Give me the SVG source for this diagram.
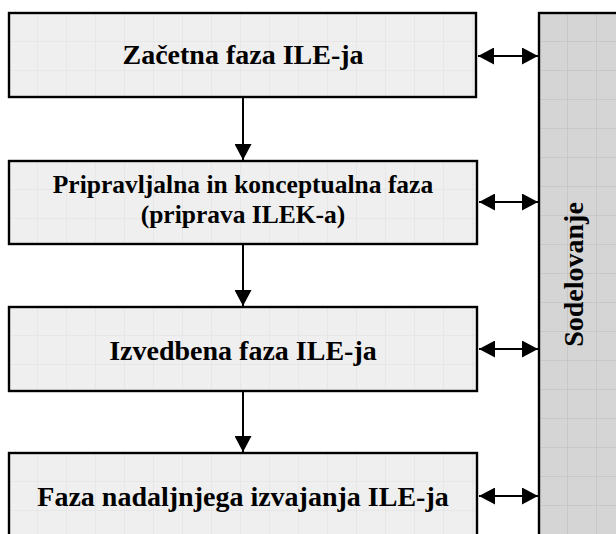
<svg xmlns="http://www.w3.org/2000/svg" width="616" height="534" viewBox="0 0 616 534">
  <style>
    .box { fill: url(#gridLight); stroke: #000; stroke-width: 2.4; }
    .panel { fill: url(#gridDark); stroke: #000; stroke-width: 2.4; }
    .label { font-family: "Liberation Serif", "Times New Roman", serif; font-weight: bold; fill: #000; text-anchor: middle; }
    .link { stroke: #000; stroke-width: 2; fill: none; }
  </style>
  <defs>
    <!-- light grid fill for the phase boxes -->
    <pattern id="gridLight" width="29" height="29" patternUnits="userSpaceOnUse">
      <rect width="29" height="29" fill="#efefef"/>
      <path d="M29 0 V29 M0 29 H29" stroke="#e0e0e0" stroke-width="1"/>
    </pattern>
    <!-- darker grid fill for the side panel -->
    <pattern id="gridDark" width="29" height="29" patternUnits="userSpaceOnUse">
      <rect width="29" height="29" fill="#d5d5d5"/>
      <path d="M29 0 V29 M0 29 H29" stroke="#bcbcbc" stroke-width="1"/>
    </pattern>
    <marker id="head" markerUnits="userSpaceOnUse" viewBox="0 0 16 17" markerWidth="16" markerHeight="17" refX="16" refY="8.5" orient="auto-start-reverse">
      <path d="M0 0 L16 8.5 L0 17 Z" fill="#000"/>
    </marker>
  </defs>

  <rect width="616" height="534" fill="#fff"/>

  <g id="node-sodelovanje" transform="translate(539,13)">
    <rect class="panel" x="0" y="0" width="100" height="540"/>
    <text class="label" font-size="28" transform="translate(44,261.5) rotate(-90)">Sodelovanje</text>
  </g>

  <g id="node-zacetna" transform="translate(9,13)">
    <rect class="box" x="0" y="0" width="467" height="84"/>
    <text class="label" x="234" y="51" font-size="28">Začetna faza ILE-ja</text>
  </g>

  <g id="node-pripravljalna" transform="translate(9,161)">
    <rect class="box" x="0" y="0" width="468" height="83"/>
    <text class="label" x="234" y="32" font-size="25.5">Pripravljalna in konceptualna faza</text>
    <text class="label" x="234" y="62" font-size="25.5">(priprava ILEK-a)</text>
  </g>

  <g id="node-izvedbena" transform="translate(9,307)">
    <rect class="box" x="0" y="0" width="468" height="84"/>
    <text class="label" x="234" y="53" font-size="28">Izvedbena faza ILE-ja</text>
  </g>

  <g id="node-nadaljnja" transform="translate(9,453)">
    <rect class="box" x="0" y="0" width="468" height="100"/>
    <text class="label" x="234" y="53" font-size="28">Faza nadaljnjega izvajanja ILE-ja</text>
  </g>

  <g id="connectors">
    <line class="link" x1="243" y1="97" x2="243" y2="160" marker-end="url(#head)"/>
    <line class="link" x1="243" y1="244" x2="243" y2="306" marker-end="url(#head)"/>
    <line class="link" x1="243" y1="391" x2="243" y2="452" marker-end="url(#head)"/>
    <line class="link" x1="478" y1="56" x2="538" y2="56" marker-start="url(#head)" marker-end="url(#head)"/>
    <line class="link" x1="479" y1="202" x2="538" y2="202" marker-start="url(#head)" marker-end="url(#head)"/>
    <line class="link" x1="479" y1="349" x2="538" y2="349" marker-start="url(#head)" marker-end="url(#head)"/>
    <line class="link" x1="479" y1="496" x2="538" y2="496" marker-start="url(#head)" marker-end="url(#head)"/>
  </g>
</svg>
